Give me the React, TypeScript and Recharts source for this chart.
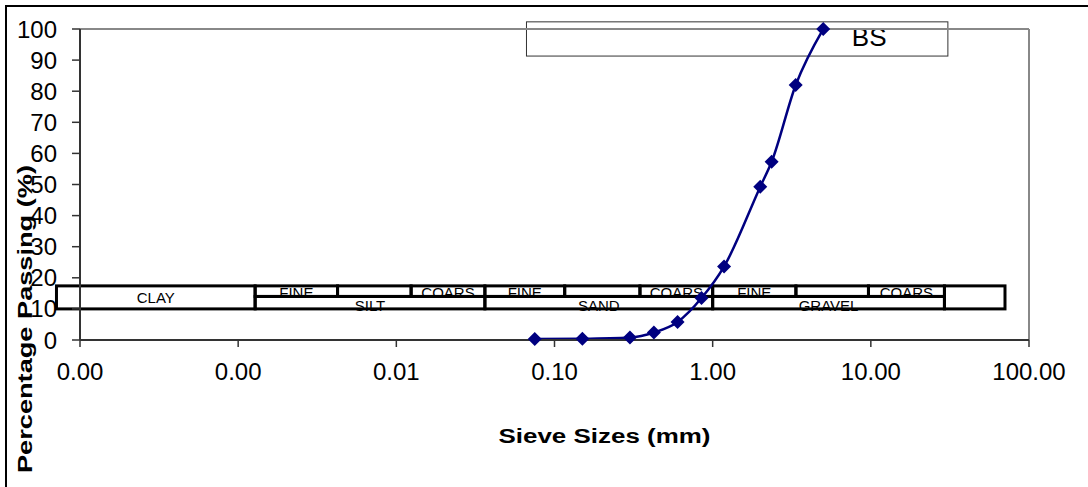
import React from "react";
import {
  LineChart,
  Line,
  XAxis,
  YAxis,
  ReferenceArea,
  ReferenceLine,
  Label,
} from "recharts";

const FONT = "'Liberation Sans', Arial, sans-serif";

// sieve analysis (BS)
const sieveSizes = [0.075, 0.15, 0.3, 0.425, 0.6, 0.85, 1.18, 2.0, 2.36, 3.35, 5.0];
const passing = [0.3, 0.4, 0.8, 2.4, 5.8, 13.5, 23.6, 49.3, 57.3, 82.0, 100];
const seriesName = "BS";

const xTicks = [0.0001, 0.001, 0.01, 0.1, 1, 10, 100];
const yTicks = [0, 10, 20, 30, 40, 50, 60, 70, 80, 90, 100];

// classification strip, boundaries in mm (as drawn on the sheet)
const stripBounds = [7.1e-5, 0.00128, 0.00425, 0.0124, 0.0363, 0.116, 0.347, 1.0, 3.36, 9.66, 29.2, 70.5];
const stripRows = [10, 14, 17.4];
const mainClasses = ["SILT", "SAND", "GRAVEL"];
const subClasses = ["FINE", "", "COARS"];

// legend box extent
const legendBox = { x1: 0.0665, x2: 30.7, y1: 91.3, y2: 102.3 };

const data = sieveSizes.map((size, i) => ({ size, pass: passing[i] }));

type Mode = "center" | "top" | "bottom";

const StripCell = (props: any) => {
  const { x, y, width, height, text, mode } = props;
  const ty = mode === "center" ? y + height / 2 + 5.5 : y + height + 2;
  return (
    <g>
      {text ? (
        <text
          x={x + width / 2}
          y={ty}
          textAnchor="middle"
          fontSize={15}
          fontFamily={FONT}
          fill="#000"
        >
          {text}
        </text>
      ) : null}
      <rect x={x} y={y} width={width} height={height} fill="none" stroke="#000" strokeWidth={3} />
    </g>
  );
};

const cells: Array<{ x1: number; x2: number; y1: number; y2: number; text: string; mode: Mode }> = [];
cells.push({ x1: stripBounds[0], x2: stripBounds[1], y1: stripRows[0], y2: stripRows[2], text: "CLAY", mode: "center" });
mainClasses.forEach((name, g) => {
  const i = 1 + g * 3;
  cells.push({ x1: stripBounds[i], x2: stripBounds[i + 3], y1: stripRows[0], y2: stripRows[1], text: name, mode: "bottom" });
  subClasses.forEach((sub, j) => {
    cells.push({ x1: stripBounds[i + j], x2: stripBounds[i + j + 1], y1: stripRows[1], y2: stripRows[2], text: sub, mode: "top" });
  });
});
cells.push({ x1: stripBounds[10], x2: stripBounds[11], y1: stripRows[0], y2: stripRows[2], text: "", mode: "center" });

const Diamond = (props: any) => {
  const { cx, cy, index } = props;
  if (cx == null || cy == null) return <g key={index} />;
  const r = 7;
  return (
    <polygon
      key={index}
      points={`${cx},${cy - r} ${cx + r},${cy} ${cx},${cy + r} ${cx - r},${cy}`}
      fill="#000080"
    />
  );
};

const LegendBox = (props: any) => {
  const { x, y, width, height } = props;
  return (
    <g>
      <rect x={x} y={y} width={width} height={height} fill="none" stroke="#333" strokeWidth={1} />
      <text x={x + width * 0.772} y={y + height * 0.7} fontSize={26} fontFamily={FONT} fill="#000">
        {seriesName}
      </text>
    </g>
  );
};

const XTitle = (props: any) => {
  const vb = props.viewBox || { x: 80, y: 340, width: 949 };
  return (
    <text
      x={vb.x + vb.width / 2 + 50}
      y={vb.y + 103}
      textAnchor="middle"
      fontSize={20}
      fontWeight="bold"
      fontFamily={FONT}
      textLength={212}
      lengthAdjust="spacingAndGlyphs"
      fill="#000"
    >
      Sieve Sizes (mm)
    </text>
  );
};

const YTitle = (props: any) => {
  const vb = props.viewBox || { x: 0, y: 29, width: 80, height: 311 };
  const cx = 32;
  const cy = vb.y + 290;
  return (
    <text
      x={cx}
      y={cy}
      transform={`rotate(-90, ${cx}, ${cy})`}
      textAnchor="middle"
      fontSize={21}
      fontWeight="bold"
      fontFamily={FONT}
      textLength={308}
      lengthAdjust="spacingAndGlyphs"
      fill="#000"
    >
      Percentage Passing (%)
    </text>
  );
};

export default function App() {
  return (
    <div style={{ position: "absolute", left: 0, top: 0, width: 1088, height: 487, background: "#fff" }}>
      <div
        style={{
          position: "absolute",
          left: 5,
          top: 5,
          right: 0,
          bottom: 0,
          borderLeft: "2px solid #000",
          borderTop: "2px solid #000",
        }}
      />
      <LineChart
        width={1088}
        height={487}
        data={data}
        margin={{ top: 29, right: 59, left: 0, bottom: 107 }}
        style={{ position: "absolute", left: 0, top: 0 }}
      >
        <XAxis
          type="number"
          dataKey="size"
          scale="log"
          domain={[0.0001, 100]}
          ticks={xTicks}
          interval={0}
          tickFormatter={(v: number) => v.toFixed(2)}
          height={40}
          tickSize={7}
          tickMargin={16}
          axisLine={{ stroke: "#333", strokeWidth: 2 }}
          tickLine={{ stroke: "#333", strokeWidth: 1.5 }}
          tick={{ fontSize: 24, fill: "#000", fontFamily: FONT }}
        >
          <Label content={<XTitle />} />
        </XAxis>
        <YAxis
          type="number"
          domain={[0, 100]}
          ticks={yTicks}
          interval={0}
          width={80}
          tickSize={8}
          tickMargin={15}
          axisLine={{ stroke: "#333", strokeWidth: 2 }}
          tickLine={{ stroke: "#333", strokeWidth: 1.5 }}
          tick={{ fontSize: 24, fill: "#000", fontFamily: FONT }}
        >
          <Label content={<YTitle />} />
        </YAxis>
        <ReferenceLine y={100} stroke="#888" strokeWidth={2} />
        <ReferenceLine x={100} stroke="#888" strokeWidth={2} />
        {cells.map((c, i) => (
          <ReferenceArea
            key={"cell" + i}
            x1={c.x1}
            x2={c.x2}
            y1={c.y1}
            y2={c.y2}
            ifOverflow="visible"
            shape={(p: any) => <StripCell {...p} text={c.text} mode={c.mode} />}
          />
        ))}
        <ReferenceArea
          x1={legendBox.x1}
          x2={legendBox.x2}
          y1={legendBox.y1}
          y2={legendBox.y2}
          ifOverflow="visible"
          shape={(p: any) => <LegendBox {...p} />}
        />
        <Line
          type="monotone"
          dataKey="pass"
          name={seriesName}
          stroke="#000080"
          strokeWidth={2.5}
          dot={Diamond}
          activeDot={false}
          isAnimationActive={false}
        />
      </LineChart>
    </div>
  );
}
